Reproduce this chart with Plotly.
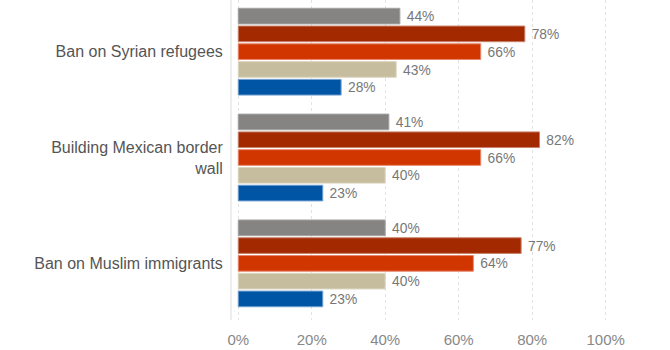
import plotly.graph_objects as go

categories = ["Ban on Syrian refugees", "Building Mexican border<br>wall", "Ban on Muslim immigrants"]
series_names = ["All voters", "Trump supporters", "Republicans", "Independents", "Democrats"]
series_values = [
    [44, 41, 40],
    [78, 82, 77],
    [66, 66, 64],
    [43, 40, 40],
    [28, 23, 23],
]
colors = ["#858483", "#A32A00", "#D13600", "#C5BD9E", "#0055A5"]
edge_colors = ["#a3a3a2", "#c9826a", "#e8866a", "#ddd6c0", "#6f9fd0"]
tick_vals = [0, 20, 40, 60, 80, 100]
tick_text = ["0%", "20%", "40%", "60%", "80%", "100%"]

fig = go.Figure()
for name, vals, c, ec in zip(series_names, series_values, colors, edge_colors):
    fig.add_trace(go.Bar(
        y=categories, x=vals, name=name, orientation="h",
        marker=dict(color=c, line=dict(color=ec, width=1)),
        text=[f"\u00a0{v}%" for v in vals], textposition="outside",
        textfont=dict(color="#777777", size=15, family="Liberation Sans"),
        cliponaxis=False, hoverinfo="x+name",
    ))

fig.update_layout(
    width=670, height=350,
    margin=dict(l=232, r=46, t=0, b=30),
    barmode="group", bargap=0.16, bargroupgap=0.12,
    showlegend=False,
    plot_bgcolor="white", paper_bgcolor="white",
    font=dict(family="Liberation Sans", color="#555555"),
    xaxis=dict(
        range=[-1.7, 105], tickvals=tick_vals, ticktext=tick_text,
        showgrid=True, gridcolor="#e2e2e2", griddash="3px,3px", gridwidth=1,
        zeroline=False, showline=False,
        ticks="outside", ticklen=6, tickcolor="rgba(0,0,0,0)",
        tickfont=dict(size=15, color="#888888"),
    ),
    yaxis=dict(
        range=[2.535, -0.488],
        showline=True, linecolor="#eeeeee", linewidth=2,
        showgrid=False, zeroline=False,
        ticks="outside", ticklen=4, tickcolor="rgba(0,0,0,0)",
        tickfont=dict(size=16, color="#555555"),
    ),
)
fig.write_html("out.html")
